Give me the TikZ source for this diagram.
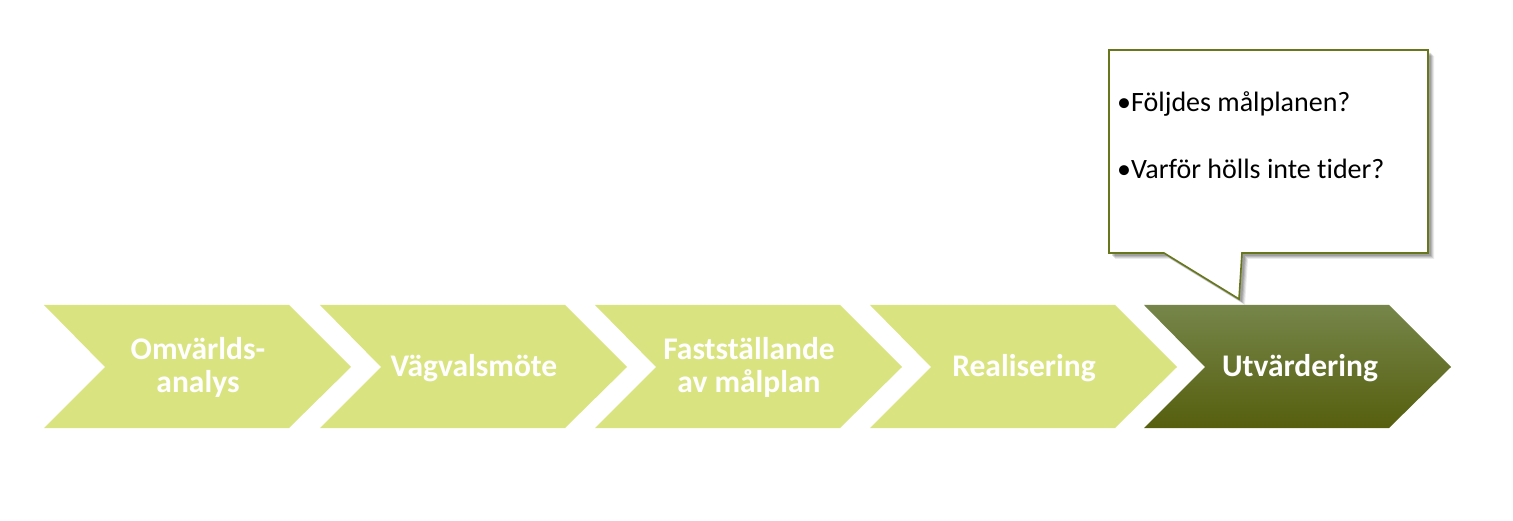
\documentclass[tikz,border=0pt]{standalone}
\usepackage{fontspec}
\setmainfont{Carlito}[Ligatures=NoCommon]
\definecolor{chevlight}{HTML}{D9E480}
\definecolor{chevdarktop}{HTML}{76864A}
\definecolor{chevdarkbot}{HTML}{565F0E}
\definecolor{calloutborder}{HTML}{68771C}
\tikzset{
  chevtext/.style={text=white, font=\bfseries\fontsize{31.5}{33}\selectfont, align=center, inner sep=0pt},
  calltext/.style={text=black, font=\fontsize{28}{30}\selectfont, anchor=base west, inner sep=0pt},
}
\newcommand{\chevpath}[1]{(#1,305) -- ++(245,0) -- ++(62,62) -- ++(-62,61) -- ++(-245,0) -- ++(61,-61) -- cycle}
\begin{document}
\begin{tikzpicture}[x=1pt,y=-1pt]
\useasboundingbox (0,0) rectangle (1513,521);
% chevrons
\fill[chevlight] \chevpath{44};
\fill[chevlight] \chevpath{320};
\fill[chevlight] \chevpath{595};
\fill[chevlight] \chevpath{870};
\shade[top color=chevdarktop, bottom color=chevdarkbot] \chevpath{1144};
\node[chevtext] (c1) at (198,367) {Omvärlds-\\analys};
\node[chevtext] (c2) at (474,368) {Vägvalsmöte};
\node[chevtext] (c3) at (749,367) {Fastställande\\av målplan};
\node[chevtext] (c4) at (1024,368) {Realisering};
\node[chevtext] (c5) at (1300,368) {Utvärdering};
% callout shadow
\foreach \o/\a in {6/0.08,5/0.10,4/0.12,3/0.14}{
  \fill[black,opacity=\a] (1109+\o,50+\o) -- (1428+\o,50+\o) -- (1428+\o,253+\o) -- (1242+\o,253+\o) -- (1239+\o,299+\o) -- (1164+\o,253+\o) -- (1109+\o,253+\o) -- cycle;
}
% callout
\draw[calloutborder, line width=1.6pt, fill=white, line join=miter]
  (1109,50) -- (1428,50) -- (1428,253) -- (1242,253) -- (1239,299) -- (1164,253) -- (1109,253) -- cycle;
\coordinate (tip) at (1239,299);
\node[calltext] (q1) at (1117,112) {•Följdes målplanen?};
\node[calltext] (q2) at (1117,179) {•Varför hölls inte tider?};
\end{tikzpicture}
\end{document}
